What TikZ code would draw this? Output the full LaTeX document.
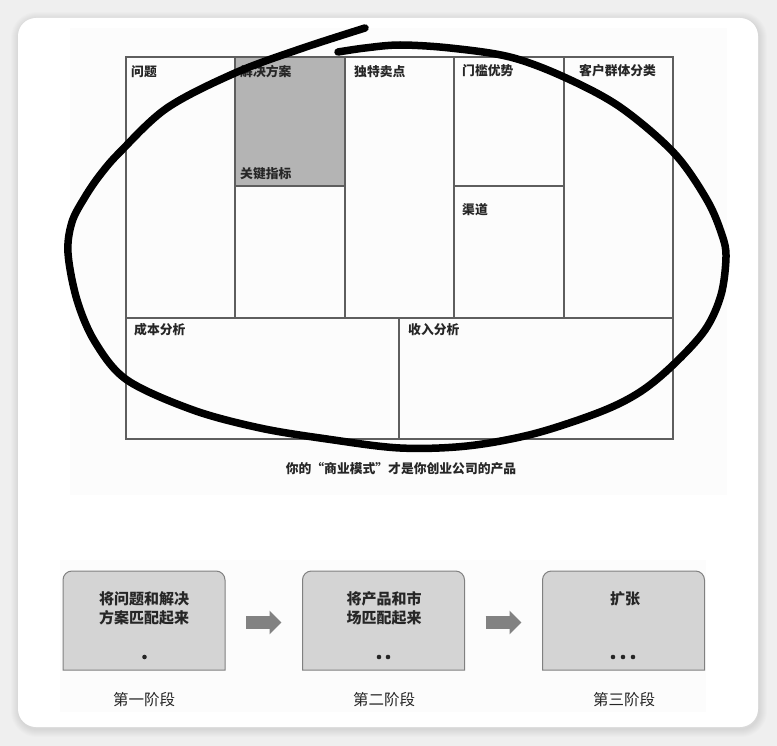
\documentclass[tikz,border=0pt]{standalone}
\usepackage{fontspec}
\setmainfont{Noto Sans CJK SC}
\usetikzlibrary{arrows.meta}
\definecolor{bgout}{HTML}{EFEFEF}
\definecolor{gridc}{HTML}{5E5E5E}
\definecolor{grayfill}{HTML}{B4B4B4}
\definecolor{boxfill}{HTML}{D4D4D4}
\definecolor{boxline}{HTML}{808080}
\definecolor{arrc}{HTML}{828282}
\definecolor{txt}{HTML}{262626}
\definecolor{faint}{HTML}{FCFCFC}
\tikzset{
  cell/.style={draw=gridc, line width=1.1pt, anchor=north west, inner sep=0pt, outer sep=0pt},
  lbl/.style={anchor=west, inner sep=0pt, text=txt, font=\fontsize{12.8}{15}\selectfont\bfseries},
  stagebox/.style={minimum width=162pt, minimum height=99pt, inner sep=0pt, outer sep=0pt},
  stageline/.style={fill=boxfill, draw=boxline, line width=1pt},
  stagetext/.style={align=center, text=txt, inner sep=0pt, font=\fontsize{15}{19}\selectfont\bfseries},
  stagelbl/.style={inner sep=0pt, text=txt, font=\fontsize{15.5}{18}\selectfont},
  arr/.style={draw=arrc, line width=12.5pt, -{Triangle[length=12pt,width=23pt]}, shorten <=21pt, shorten >=21pt},
  dot/.style={fill=txt}
}
\begin{document}
\begin{tikzpicture}[x=1pt,y=-1pt]
\useasboundingbox (0,0) rectangle (777,746);
\fill[bgout] (0,0) rectangle (777,746);
\foreach \w in {2,4,...,16}
  \draw[black, opacity=0.012, line width=\w pt, rounded corners=18pt] (19,20) rectangle (759,729);
\fill[white, rounded corners=18pt] (18,18) rectangle (758,727);
\fill[faint] (70,28) rectangle (727,495);
\fill[faint] (60,560) rectangle (706,712);

% grid
\node[cell, minimum width=109pt, minimum height=261pt] (c1) at (126,57) {};
\node[cell, fill=grayfill, minimum width=110pt, minimum height=129pt] (c2) at (235,57) {};
\node[cell, minimum width=110pt, minimum height=132pt] (c3) at (235,186) {};
\node[cell, minimum width=109pt, minimum height=261pt] (c4) at (345,57) {};
\node[cell, minimum width=110pt, minimum height=129pt] (c5) at (454,57) {};
\node[cell, minimum width=110pt, minimum height=132pt] (c6) at (454,186) {};
\node[cell, minimum width=109pt, minimum height=261pt] (c7) at (564,57) {};
\node[cell, minimum width=273pt, minimum height=121pt] (c8) at (126,318) {};
\node[cell, minimum width=274pt, minimum height=121pt] (c9) at (399,318) {};

\node[lbl] (l1) at ([xshift=5pt, yshift=-15pt]c1.north west) {问题};
\node[lbl] (l2) at ([xshift=5pt, yshift=-15pt]c2.north west) {解决方案};
\node[lbl] (l3) at ([xshift=5pt, yshift=12pt]c2.south west) {关键指标};
\node[lbl] (l4) at ([xshift=9pt, yshift=-15pt]c4.north west) {独特卖点};
\node[lbl] (l5) at ([xshift=8pt, yshift=-14pt]c5.north west) {门槛优势};
\node[lbl] (l6) at ([xshift=8pt, yshift=-24pt]c6.north west) {渠道};
\node[lbl] (l7) at ([xshift=15pt, yshift=-14pt]c7.north west) {客户群体分类};
\node[lbl] (l8) at ([xshift=8pt, yshift=-12pt]c8.north west) {成本分析};
\node[lbl] (l9) at ([xshift=9pt, yshift=-12pt]c9.north west) {收入分析};

\node[lbl, anchor=center] (cap) at (401,469) {你的“商业模式”才是你创业公司的产品};

% hand-drawn loop
\draw[line width=7.5pt, line cap=round, line join=round] plot[smooth, tension=0.55] coordinates {
 (338,52) (365,48) (400,45) (450,48) (510,57) (564,77) (620,107) (674,153)
 (707,200) (722,235) (726,257) (721,295) (705,330) (673,365) (640,392)
 (600,412) (533,434) (467,446) (400,448) (327,439) (260,428) (193,410)
 (127,380) (95,342) (77,300) (68,253) (72,222) (85,197)
 (100,175) (120,152) (167,108) (235,73) (300,49) (365,28)};

% stages
\node[stagebox] (b1) at (144,620.5) {};
\node[stagebox] (b2) at (383.5,620.5) {};
\node[stagebox] (b3) at (623.5,620.5) {};
\foreach \b in {b1,b2,b3}
  \draw[stageline] (\b.south west) [rounded corners=9pt] -- (\b.north west) -- (\b.north east) [sharp corners] -- (\b.south east) -- cycle;

\node[stagetext] (t1) at (144,608) {将问题和解决\\方案匹配起来};
\node[stagetext] (t2) at (384,608) {将产品和市\\场匹配起来};
\node[stagetext] (t3) at (625,599) {扩张};

\fill[dot] (144.5,657) circle (2.3pt);
\fill[dot] (379,657) circle (2.3pt);
\fill[dot] (388,657) circle (2.3pt);
\fill[dot] (613,657) circle (2.3pt);
\fill[dot] (623,657) circle (2.3pt);
\fill[dot] (633,657) circle (2.3pt);

\draw[arr] ([yshift=-2pt]b1.east) -- ([yshift=-2pt]b2.west);
\draw[arr] ([yshift=-2pt]b2.east) -- ([yshift=-2pt]b3.west);

\node[stagelbl] (s1) at (144,700) {第一阶段};
\node[stagelbl] (s2) at (384,700) {第二阶段};
\node[stagelbl] (s3) at (624,700) {第三阶段};
\end{tikzpicture}
\end{document}
